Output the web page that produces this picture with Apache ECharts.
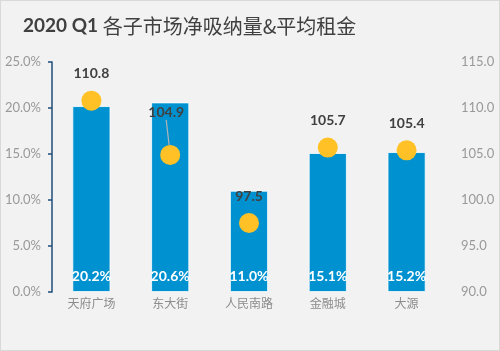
<!DOCTYPE html>
<html><head><meta charset="utf-8">
<script src="https://cdn.jsdelivr.net/npm/echarts@6/dist/echarts.min.js"></script>
<style>
html,body{margin:0;padding:0;background:#fff;}
#wrap{position:absolute;left:0;top:0;width:498px;height:349px;border:1px solid #d9d9d9;background:#f2f2f2;}
#c{width:498px;height:349px;}
</style></head>
<body><div id="wrap"><div id="c"></div></div>
<script>
var categories = ['天府广场','东大街','人民南路','金融城','大源'];
var netAbsorption = [20.2, 20.6, 11.0, 15.1, 15.2];
var avgRent = [110.8, 104.9, 97.5, 105.7, 105.4];
var leftTicks = {min: 0, max: 25, interval: 5};
var rightTicks = {min: 90, max: 115, interval: 5};
var leaderIndex = 1;

var rentData = avgRent.map(function (v, i) {
  return i === leaderIndex
    ? {value: v, labelLine: {show: true, lineStyle: {color: '#b3b3b3', width: 1.2}}}
    : {value: v};
});

var chart = echarts.init(document.getElementById('c'));
chart.setOption({
  backgroundColor: '#f2f2f2',
  animation: false,
  title: {
    text: '{a|2020 Q1 }{b|各子市场净吸纳量&平均租金}',
    left: 17, top: 10,
    textStyle: {
      rich: {
        a: {fontFamily: 'Lato, "Liberation Sans", sans-serif', fontWeight: 'bold', fontSize: 19, color: '#404040'},
        b: {fontFamily: '"Noto Sans CJK SC", sans-serif', fontWeight: 'normal', fontSize: 20, color: '#404040'}
      }
    }
  },
  grid: {left: 51, right: 53, top: 61, bottom: 58},
  xAxis: {
    type: 'category', data: categories,
    axisLine: {show: false}, axisTick: {show: false},
    axisLabel: {color: '#8c8c8c', fontSize: 12, margin: 5, fontFamily: '"Noto Sans CJK SC", sans-serif'}
  },
  yAxis: [{
    type: 'value', min: leftTicks.min, max: leftTicks.max, interval: leftTicks.interval,
    axisLine: {show: true, lineStyle: {color: '#1f4e79', width: 1.5}},
    axisTick: {show: true, inside: false, length: 4, lineStyle: {color: '#1f4e79', width: 1.5}},
    splitLine: {show: false},
    axisLabel: {color: '#999999', fontSize: 13, margin: 11, fontFamily: 'Lato, "Liberation Sans", sans-serif',
      formatter: function (v) { return v.toFixed(1) + '%'; }}
  }, {
    type: 'value', min: rightTicks.min, max: rightTicks.max, interval: rightTicks.interval,
    axisLine: {show: false}, axisTick: {show: false}, splitLine: {show: false},
    axisLabel: {color: '#999999', fontSize: 13, margin: 15, fontFamily: 'Lato, "Liberation Sans", sans-serif',
      formatter: function (v) { return v.toFixed(1); }}
  }],
  series: [{
    type: 'bar', data: netAbsorption, yAxisIndex: 0, barWidth: 38,
    itemStyle: {color: '#0092d0', borderColor: '#ffffff', borderWidth: 0.8},
    label: {show: true, position: 'insideBottom', distance: 9, color: '#ffffff', fontWeight: 'bold', fontSize: 14,
      fontFamily: 'Lato, "Liberation Sans", sans-serif',
      formatter: function (p) { return p.value.toFixed(1) + '%'; }}
  }, {
    type: 'scatter', data: rentData, yAxisIndex: 1, symbolSize: 20,
    itemStyle: {color: '#ffc125', opacity: 1},
    label: {show: true, position: 'top', distance: 10, color: '#404040', fontWeight: 'bold', fontSize: 14,
      fontFamily: 'Lato, "Liberation Sans", sans-serif',
      formatter: function (p) { return p.value.toFixed(1); }},
    labelLine: {show: false, lineStyle: {color: '#b3b3b3', width: 1.2}},
    labelLayout: function (p) {
      if (p.dataIndex === leaderIndex) return {dx: -4, dy: -15};
      return {};
    }
  }]
});
</script></body></html>
